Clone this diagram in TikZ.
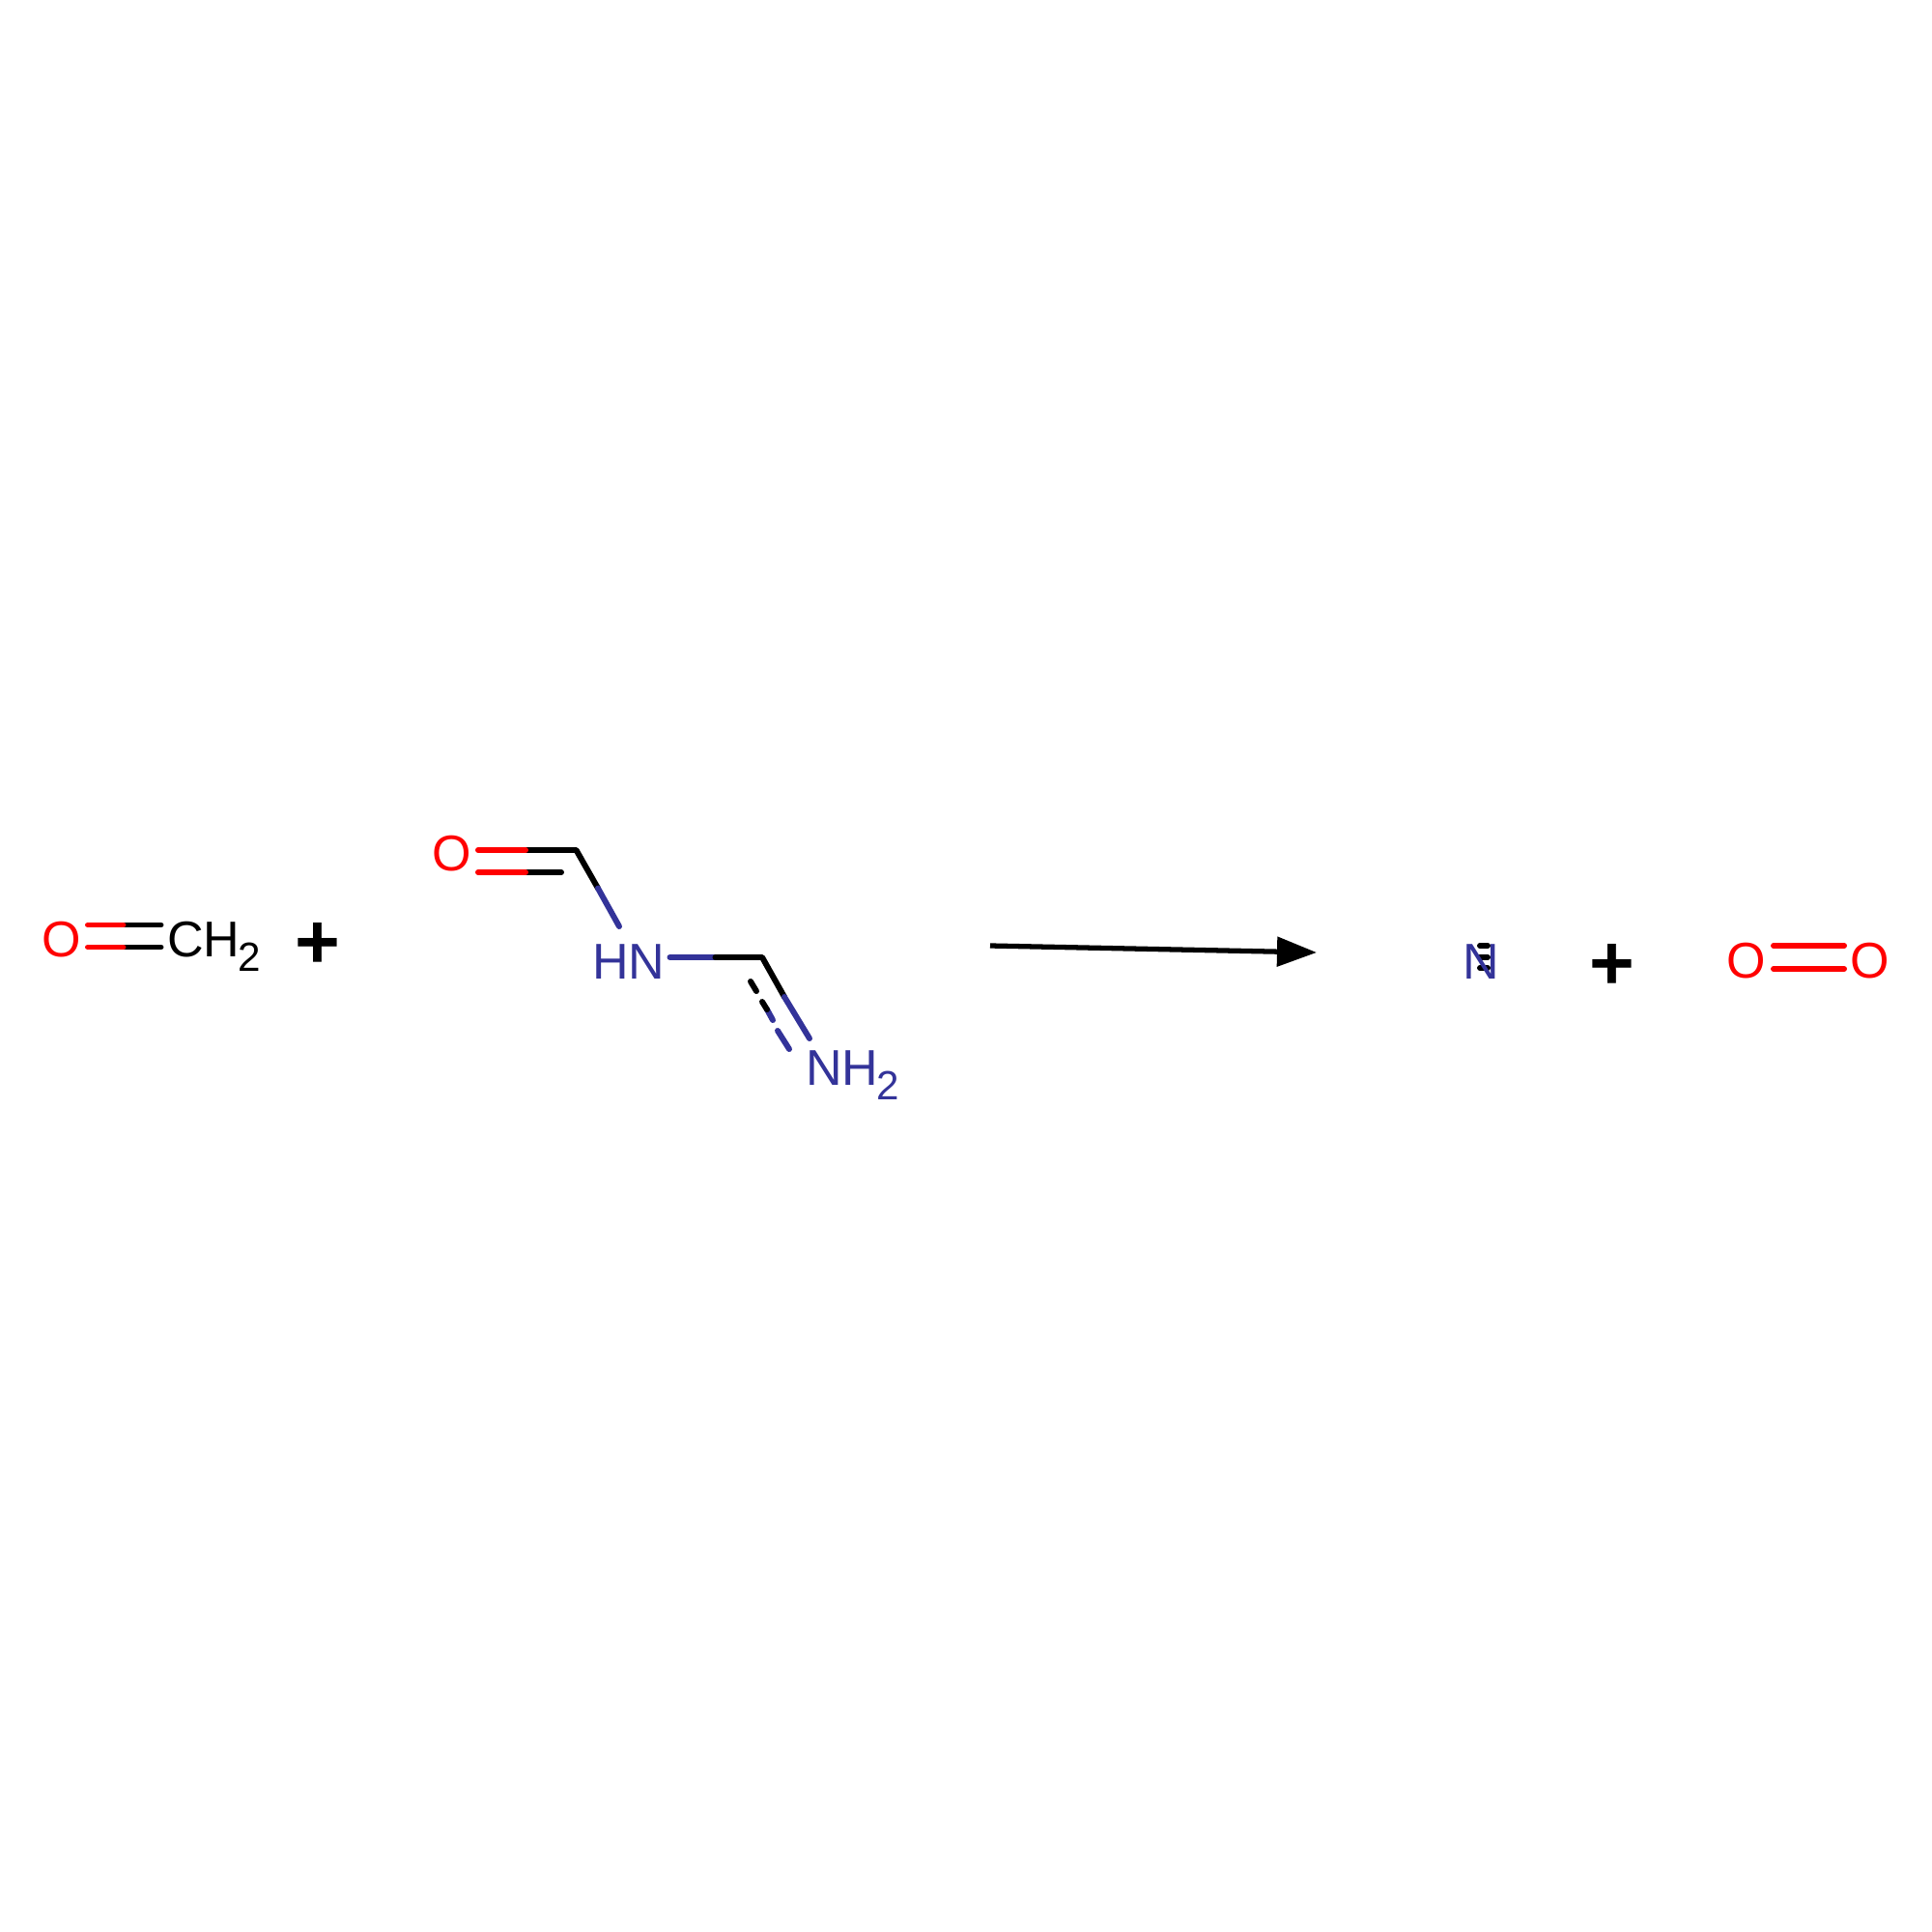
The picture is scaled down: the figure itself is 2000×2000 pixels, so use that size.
\documentclass[tikz,border=0pt]{standalone}
\usepackage{fontspec}
\setmainfont{Liberation Sans}
\usetikzlibrary{positioning,arrows.meta}
\definecolor{oxy}{HTML}{FF0000}
\definecolor{nitro}{HTML}{333399}
\newcommand{\subtwo}{\kern-0.02cm\raisebox{-0.15cm}{\fontsize{12pt}{13pt}\selectfont 2}}
\tikzset{
	atom/.style={inner sep=0pt, outer sep=0pt, font=\fontsize{14.8pt}{16pt}\selectfont},
	oatom/.style={atom, text=oxy, anchor=base},
	natom/.style={atom, text=nitro, anchor=base west},
	catom/.style={atom, text=black, anchor=base west},
	plussign/.style={inner sep=0pt, anchor=base, font=\fontsize{22.8pt}{24pt}\selectfont\bfseries},
	bond/.style={line width=1.7pt, line cap=round, line join=round},
	obond/.style={bond, draw=oxy},
	nbond/.style={bond, draw=nitro},
	cbond/.style={bond, draw=black},
	rxnarrow/.style={line width=1.5pt, draw=black, -{Triangle[length=0.41cm,width=0.30cm]}}
}
\begin{document}
\begin{tikzpicture}[x=0.01cm,y=-0.01cm]
	\useasboundingbox (0,0) rectangle (2000,2000);

	% formaldehyde
	\node[oatom] (o1) at (64,990) {O};
	\node[catom] (ch2) at (173,990) {CH\subtwo};
	\coordinate (a1) at (91,957.5); \coordinate (a2) at (127.5,957.5); \coordinate (a3) at (166.5,957.5);
	\coordinate (b1) at (91,980.5); \coordinate (b2) at (127.5,980.5); \coordinate (b3) at (166.5,980.5);
	\draw[cbond] (a2) -- (a3);
	\draw[cbond] (b2) -- (b3);
	\draw[obond] (a1) -- (a2);
	\draw[obond] (b1) -- (b2);

	\node[plussign] (plus1) at (329,1002) {+};

	% second reactant
	\node[oatom] (o2) at (468,901) {O};
	\node[natom] (hn) at (613,1013) {HN};
	\node[natom] (nh2) at (834,1123) {NH\subtwo};
	\coordinate (c1) at (495,880); \coordinate (c2) at (544,880); \coordinate (v1) at (596.5,880);
	\coordinate (d1) at (495,903); \coordinate (d2) at (544,903); \coordinate (d3) at (581,903);
	\coordinate (e1) at (619,919.5); \coordinate (e2) at (641,959);
	\coordinate (f1) at (693.5,991); \coordinate (f2) at (740.5,991); \coordinate (v2) at (789,991);
	\coordinate (g1) at (812,1032); \coordinate (g2) at (838,1075);
	\draw[cbond] (c2) -- (v1) -- (e1);
	\draw[cbond] (d2) -- (d3);
	\draw[obond] (c1) -- (c2);
	\draw[obond] (d1) -- (d2);
	\draw[nbond] (e1) -- (e2);
	\draw[nbond] (f1) -- (f2);
	\draw[cbond] (f2) -- (v2) -- (g1);
	\draw[nbond] (g1) -- (g2);
	% dashed side of the bond
	\coordinate (h1) at (777,1016); \coordinate (h2) at (783,1026);
	\coordinate (h3) at (789,1037); \coordinate (h4) at (794,1045); \coordinate (h5) at (800,1056);
	\coordinate (h6) at (805,1067); \coordinate (h7) at (817,1086);
	\draw[cbond] (h1) -- (h2);
	\draw[nbond] (h4) -- (h5);
	\draw[cbond] (h3) -- (h4);
	\draw[nbond] (h6) -- (h7);

	% reaction arrow
	\coordinate (r1) at (1025,979);
	\coordinate (r2) at (1363,986);
	\draw[rxnarrow] (r1) -- (r2);

	% products
	\coordinate (k1) at (1532,979); \coordinate (k2) at (1540,979);
	\coordinate (l1) at (1532,991); \coordinate (l2) at (1540,991);
	\coordinate (m1) at (1532,1002); \coordinate (m2) at (1540,1002);
	\draw[cbond] (k1) -- (k2);
	\draw[cbond] (l1) -- (l2);
	\draw[cbond] (m1) -- (m2);
	\node[natom] (n1) at (1514,1013) {N};

	\node[plussign] (plus2) at (1669,1024.5) {+};

	\node[oatom] (o3) at (1808,1012) {O};
	\node[oatom] (o4) at (1936,1012) {O};
	\coordinate (p1) at (1836,979); \coordinate (p2) at (1909,979);
	\coordinate (q1) at (1836,1003); \coordinate (q2) at (1909,1003);
	\draw[obond] (p1) -- (p2);
	\draw[obond] (q1) -- (q2);
\end{tikzpicture}
\end{document}
